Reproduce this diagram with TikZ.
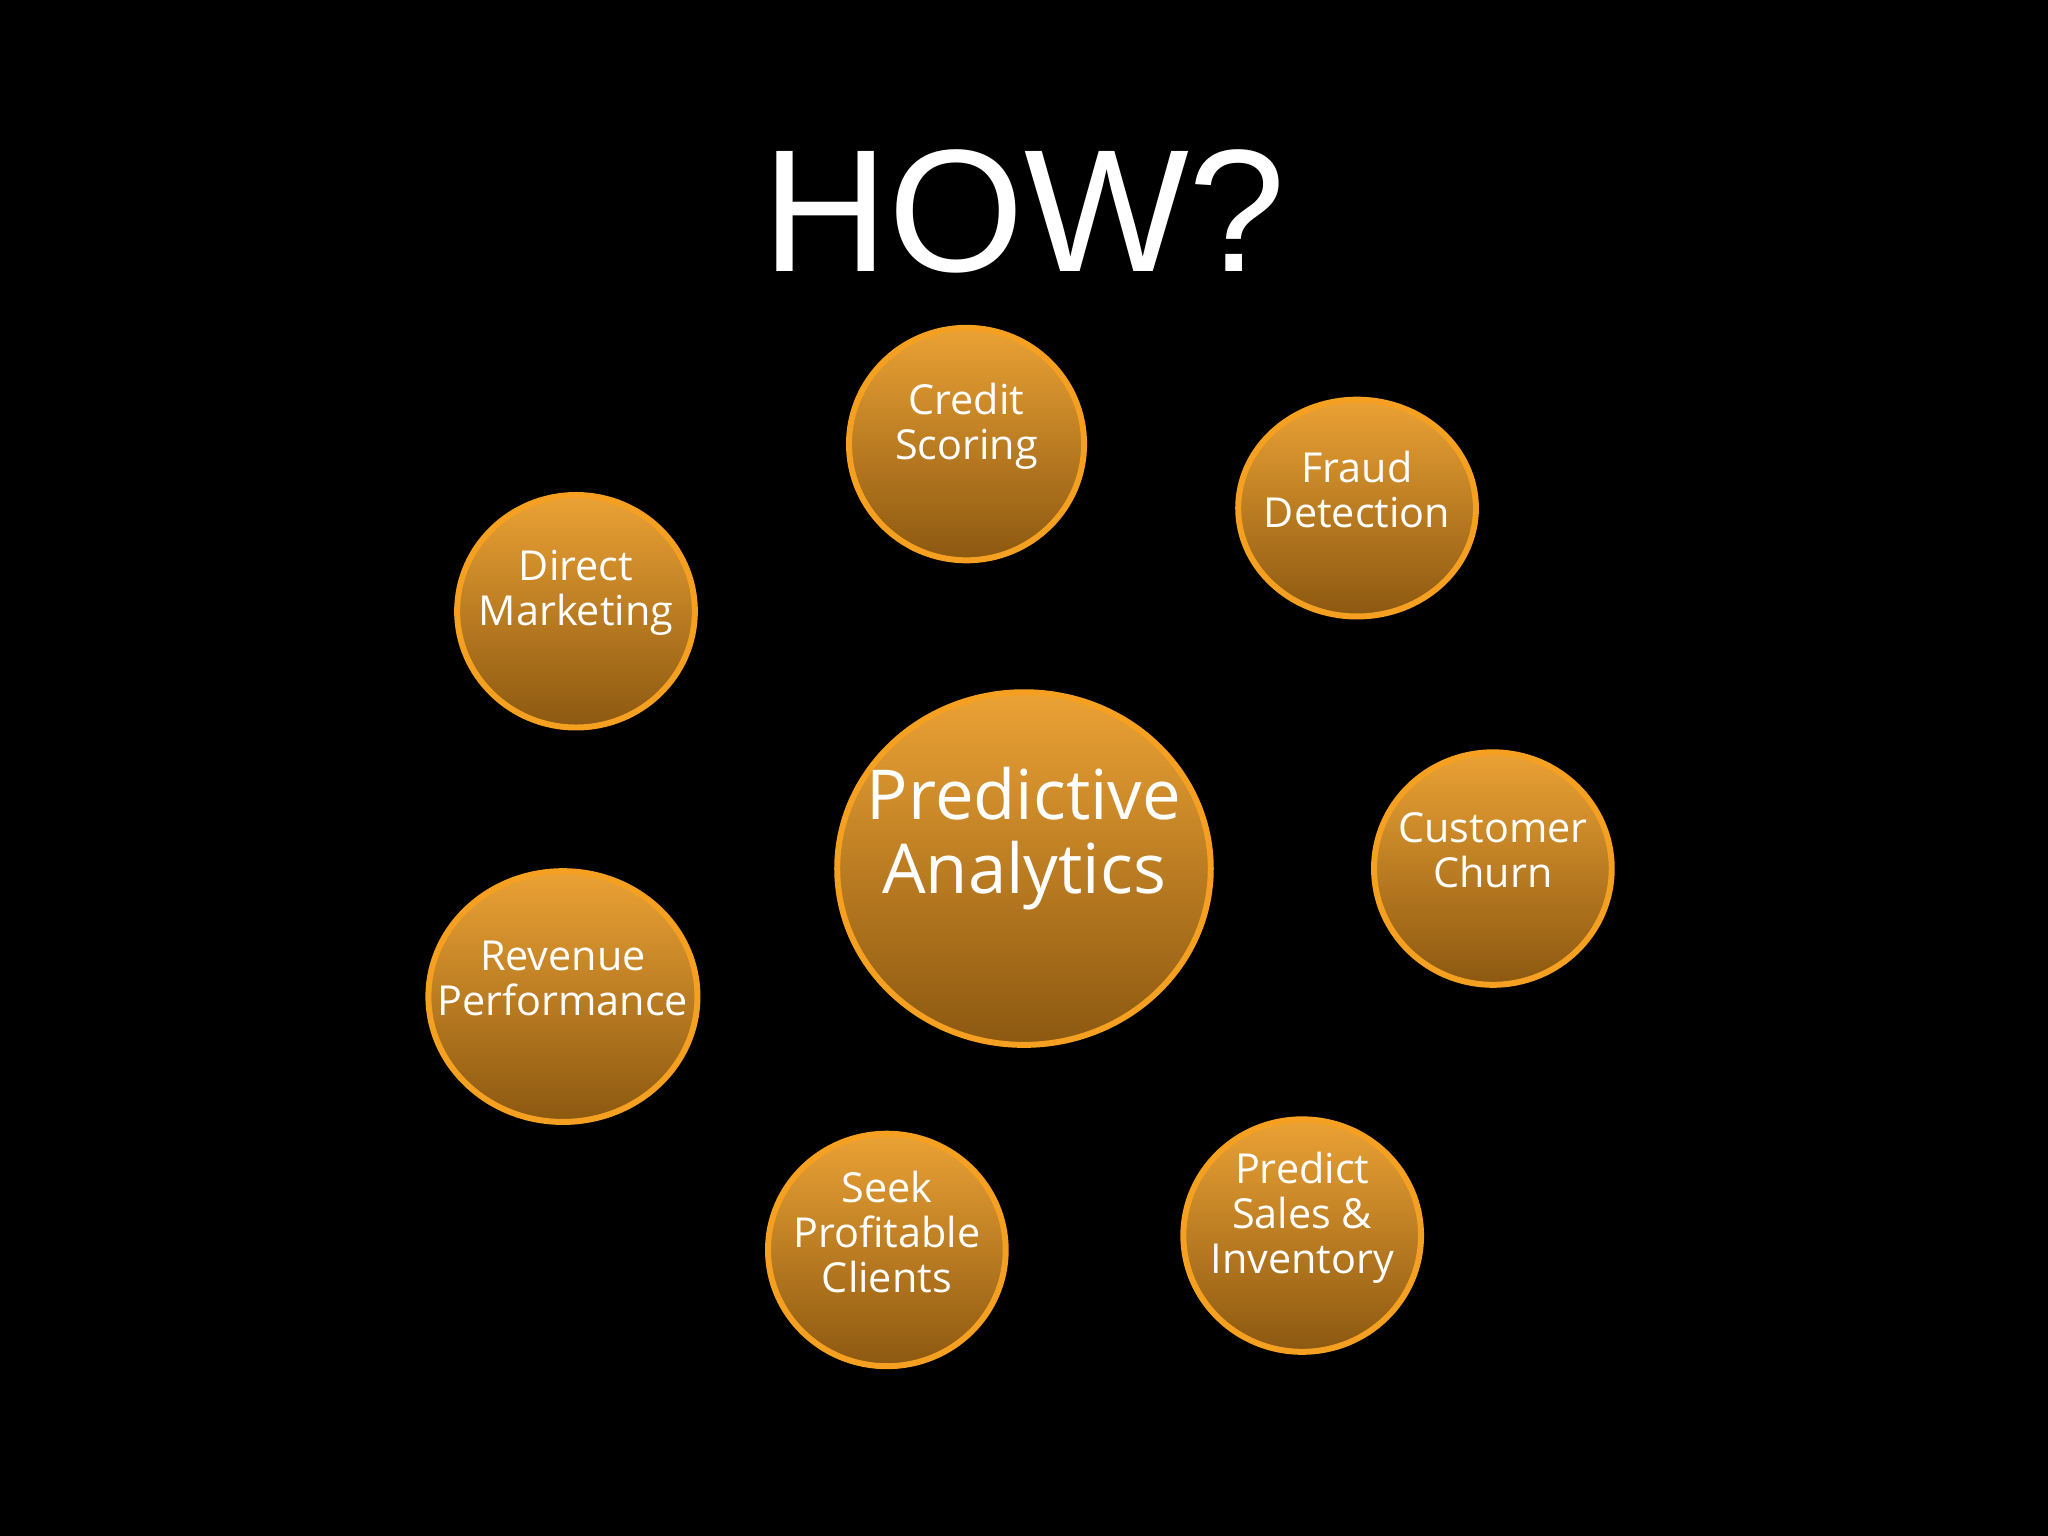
\documentclass[tikz,border=0pt]{standalone}
\usepackage{fontspec}
\setmainfont{Open Sans}
\newfontfamily\howfont{Liberation Sans}
\definecolor{otop}{HTML}{EBA235}
\definecolor{obot}{HTML}{8C5810}
\definecolor{oline}{HTML}{F5A020}
\begin{document}
\begin{tikzpicture}[x=0.01cm,y=-0.01cm,
  bub/.style={ellipse, top color=otop, bottom color=obot, draw=oline, line width=1.3pt, inner sep=0pt, text=white, align=center, font=\fontsize{9}{9.8}\selectfont},
  lbl/.style={text=white, align=center, font=\fontsize{9}{9.8}\selectfont}]
\usetikzlibrary{shapes.geometric}
\fill[black] (0,0) rectangle (1568,1176);
\node[text=white,font=\howfont\fontsize{38}{38}\selectfont] (how) at (784,162) {HOW?};
\newcommand\bubble[6]{%
  \shade[top color=otop, bottom color=obot] (#2,#3) ellipse [x radius=#4, y radius=#5];
  \draw[oline,line width=1.3pt] (#2,#3) ellipse [x radius=#4, y radius=#5];
  \node[lbl] (#1) at (#2,#3-14) {#6};}
\bubble{cs}{740}{340}{90}{89}{Credit\\Scoring}
\bubble{fd}{1039}{389}{91}{83}{Fraud\\Detection}
\bubble{dm}{441}{468}{91}{89}{Direct\\Marketing}
\bubble{cc}{1143}{665}{91}{89}{Customer\\Churn}
\bubble{rp}{431}{763}{103}{96}{Revenue\\Performance}
\bubble{sp}{679}{957}{91}{89}{Seek\\Profitable\\Clients}
\bubble{ps}{997}{946}{91}{89}{Predict\\Sales \&\\Inventory}
\shade[top color=otop, bottom color=obot] (784,665) ellipse [x radius=143, y radius=135];
\draw[oline,line width=1.3pt] (784,665) ellipse [x radius=143, y radius=135];
\node[text=white,align=center,font=\fontsize{15}{16}\selectfont] (pa) at (784,642) {Predictive\\Analytics};
\end{tikzpicture}
\end{document}
